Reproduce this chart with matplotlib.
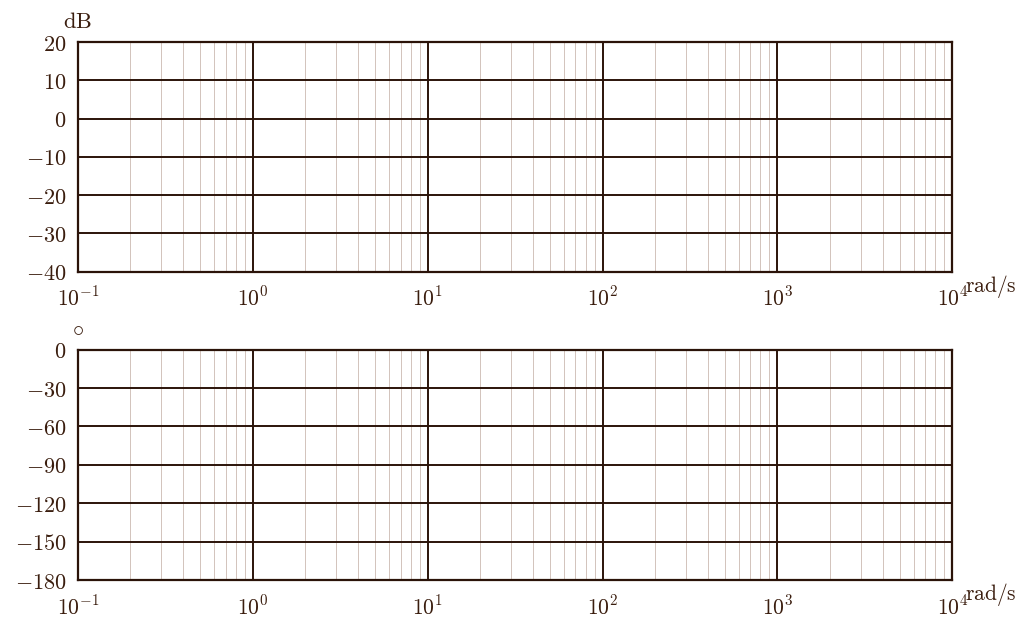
import numpy as np
import matplotlib.pyplot as plt
from matplotlib.ticker import FixedLocator, FixedFormatter, NullFormatter

plt.rcParams['mathtext.fontset'] = 'cm'
plt.rcParams['font.family'] = 'DejaVu Serif'

# frequency decades (rad/s)
decades = [-1, 0, 1, 2, 3, 4]
mag_ticks = [20, 10, 0, -10, -20, -30, -40]
phase_ticks = [0, -30, -60, -90, -120, -150, -180]

dark = '#2b1309'
txt = '#3a1d0e'
light = '#d2c3bb'

fig = plt.figure(figsize=(10.24, 6.19), dpi=100)
ax1 = fig.add_axes([0.076, 0.561, 0.854, 0.371])
ax2 = fig.add_axes([0.076, 0.063, 0.854, 0.372])

freqs = [10.0 ** d for d in decades]
minors = [m * 10.0 ** d for d in decades[:-1] for m in range(2, 10)]

for ax, yt, unit in [(ax1, mag_ticks, r'$\mathrm{dB}$'), (ax2, phase_ticks, r'$\circ$')]:
    ax.set_xscale('log')
    ax.set_xlim(freqs[0], freqs[-1])
    ax.set_ylim(min(yt), max(yt))
    ax.xaxis.set_major_locator(FixedLocator(freqs))
    ax.xaxis.set_major_formatter(FixedFormatter([r'$10^{%d}$' % d for d in decades]))
    ax.xaxis.set_minor_locator(FixedLocator(minors))
    ax.xaxis.set_minor_formatter(NullFormatter())
    ax.yaxis.set_major_locator(FixedLocator(yt))
    ax.yaxis.set_major_formatter(FixedFormatter([r'$%d$' % v for v in yt]))
    ax.tick_params(which='both', length=0)
    ax.tick_params(axis='x', pad=11, labelsize=15.5, labelcolor=txt)
    ax.tick_params(axis='y', pad=8, labelsize=16, labelcolor=txt)
    ax.grid(which='major', color=dark, linewidth=1.4)
    ax.grid(which='minor', axis='x', color=light, linewidth=0.7)
    for s in ax.spines.values():
        s.set_color(dark)
        s.set_linewidth(1.6)
    ax.text(1.014, -0.005, r'$\mathrm{rad/s}$', transform=ax.transAxes, fontsize=15.5,
            color=txt, ha='left', va='top')
    ax.text(0.0, 1.04, unit, transform=ax.transAxes, fontsize=16,
            color=txt, ha='center', va='bottom')

fig.savefig('out.png', dpi=100)
